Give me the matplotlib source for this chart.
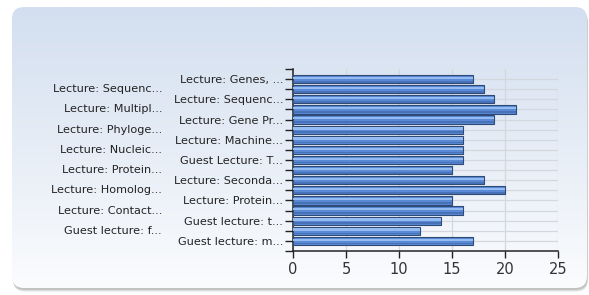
#!/usr/bin/env python3
import numpy as np
import matplotlib
matplotlib.use("Agg")
import matplotlib.pyplot as plt
from matplotlib.patches import FancyBboxPatch

# lecture labels, top to bottom (truncated as in the source chart)
lectures = [
    "Lecture: Genes, ...", "Lecture: Sequenc...", "Lecture: Sequenc...",
    "Lecture: Multipl...", "Lecture: Gene Pr...", "Lecture: Phyloge...",
    "Lecture: Machine...", "Lecture: Nucleic...", "Guest Lecture: T...",
    "Lecture: Protein...", "Lecture: Seconda...", "Lecture: Homolog...",
    "Lecture: Protein...", "Lecture: Contact...", "Guest lecture: t...",
    "Guest lecture: f...", "Guest lecture: m...",
]
counts = [17, 18, 19, 21, 19, 16, 16, 16, 16, 15, 18, 20, 15, 16, 14, 12, 17]
x_ticks = [0, 5, 10, 15, 20, 25]


def main():
    W, H = 589, 295
    fig = plt.figure(figsize=(W / 100, H / 100), dpi=100)
    fig.patch.set_facecolor("white")

    # background panel with gradient and soft shadow
    bg = fig.add_axes([0, 0, 1, 1])
    bg.set_xlim(0, W)
    bg.set_ylim(0, H)
    bg.axis("off")
    for off, a in [(4, 0.08), (3, 0.12), (2, 0.2)]:
        sh = FancyBboxPatch((12 + off * 0.3, 7 - off), 575, 281,
                            boxstyle="round,pad=0,rounding_size=12",
                            fc="#555555", ec="none", alpha=a, zorder=1)
        bg.add_patch(sh)
    panel = FancyBboxPatch((12, 7), 575, 281,
                           boxstyle="round,pad=0,rounding_size=12",
                           fc="none", ec="none", zorder=2)
    bg.add_patch(panel)
    grad = np.linspace(0, 1, 256).reshape(-1, 1)
    cmap = matplotlib.colors.LinearSegmentedColormap.from_list(
        "bg", ["#fbfcfe", "#e6edf6", "#d3dff0"])
    im = bg.imshow(grad, cmap=cmap, origin="lower", aspect="auto",
                   extent=(12, 587, 7, 288), zorder=3)
    im.set_clip_path(panel)

    # chart area
    ax = fig.add_axes([293 / W, 1 - 251 / H, 265 / W, 182 / H])
    ax.patch.set_alpha(0)
    n = len(counts)
    y = np.arange(n)
    ax.barh(y, counts, height=0.82, color="#5a8ad6", edgecolor="#2f4a75",
            linewidth=0.8, zorder=3)
    ax.barh(y - 0.12, counts, height=0.22, color="#94bbf2",
            linewidth=0, zorder=4)
    ax.barh(y + 0.26, counts, height=0.16, color="#3a609e",
            linewidth=0, zorder=4, alpha=0.55)

    ax.set_xlim(0, 25)
    ax.set_ylim(n, -1)
    ax.set_xticks(x_ticks)
    ax.set_xticklabels([str(t) for t in x_ticks], fontsize=10.5, color="#333333")
    ax.set_yticks(y)
    ax.set_yticks([-1, n], minor=True)
    right_labels = [lab if i % 2 == 0 else "" for i, lab in enumerate(lectures)]
    ax.set_yticklabels(right_labels, fontsize=8.1, color="#222222")
    for i, lab in enumerate(lectures):
        if i % 2 == 1:
            ax.text(-0.494, i, lab, transform=ax.get_yaxis_transform(),
                    ha="right", va="center", fontsize=8.1, color="#222222")

    ax.tick_params(axis="y", length=6, width=1, color="#222222", pad=1,
                   which="both")
    ax.tick_params(axis="x", length=5, width=1, color="#222222", pad=3)
    ax.grid(True, axis="both", color="#d3d7de", linewidth=0.9, zorder=0)
    for s in ["top", "right"]:
        ax.spines[s].set_visible(False)
    for s in ["left", "bottom"]:
        ax.spines[s].set_color("#222222")
        ax.spines[s].set_linewidth(1.1)

    fig.savefig("out.png", dpi=100)


if __name__ == "__main__":
    main()
